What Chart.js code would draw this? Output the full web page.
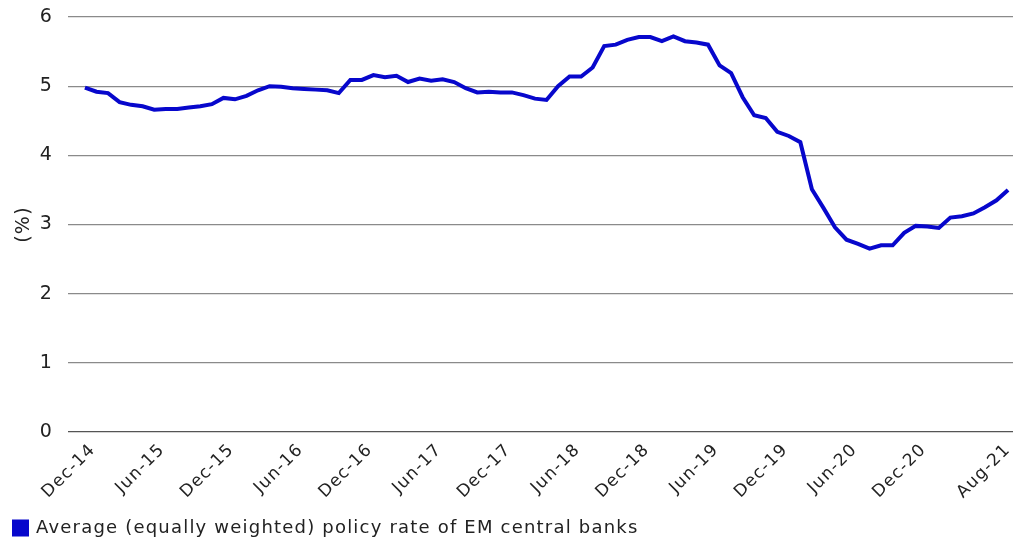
<!DOCTYPE html>
<html>
<head>
<meta charset="utf-8">
<script src="https://cdn.jsdelivr.net/npm/chart.js@4.4.1/dist/chart.umd.min.js"></script>
<style>
  html, body { margin: 0; padding: 0; background: #fff; }
  #wrap { width: 1013px; height: 538px; position: relative; }
</style>
</head>
<body>
<div id="wrap"><canvas id="grafico"></canvas></div>
<script>
// tasa promedio mensual, Dec-14 .. Aug-21 (81 meses)
const tasas = [
  4.98, 4.92, 4.90, 4.77, 4.73, 4.71, 4.66, 4.67, 4.67, 4.69,
  4.71, 4.74, 4.83, 4.81, 4.86, 4.94, 5.00, 4.99, 4.97, 4.96,
  4.95, 4.94, 4.90, 5.09, 5.09, 5.16, 5.13, 5.15, 5.06, 5.11,
  5.08, 5.10, 5.06, 4.97, 4.91, 4.92, 4.91, 4.91, 4.87, 4.82,
  4.80, 5.00, 5.14, 5.14, 5.27, 5.58, 5.60, 5.67, 5.71, 5.71,
  5.65, 5.72, 5.65, 5.63, 5.60, 5.30, 5.19, 4.84, 4.58, 4.54,
  4.34, 4.28, 4.19, 3.51, 3.24, 2.96, 2.78, 2.72, 2.65, 2.70,
  2.70, 2.88, 2.98, 2.97, 2.95, 3.10, 3.12, 3.16, 3.25, 3.35,
  3.50
];
const etiquetasX = ['Dec-14', 'Jun-15', 'Dec-15', 'Jun-16', 'Dec-16', 'Jun-17', 'Dec-17',
  'Jun-18', 'Dec-18', 'Jun-19', 'Dec-19', 'Jun-20', 'Dec-20', 'Aug-21'];
const posicionesX = [0, 6, 12, 18, 24, 30, 36, 42, 48, 54, 60, 66, 72, 80];
const ticksY = [0, 1, 2, 3, 4, 5, 6];
const nombreSerie = 'Average (equally weighted) policy rate of EM central banks';

const azul = '#0707cc';
const fuente = '"DejaVu Sans", sans-serif';

const puntos = tasas.map((v, i) => ({ x: i, y: v }));

// la fuente original es más ancha: un poco de espaciado entre letras
const espaciado = {
  id: 'espaciado',
  beforeUpdate: (chart) => { chart.ctx.letterSpacing = '1.2px'; },
  beforeDraw: (chart) => { chart.ctx.letterSpacing = '1.2px'; }
};

const ctx = document.getElementById('grafico').getContext('2d');
new Chart(ctx, {
  type: 'line',
  data: {
    datasets: [{
      label: nombreSerie,
      data: puntos,
      borderColor: azul,
      backgroundColor: azul,
      borderWidth: 4,
      pointRadius: 0,
      tension: 0,
      fill: false
    }]
  },
  plugins: [espaciado],
  options: {
    responsive: true,
    maintainAspectRatio: false,
    animation: false,
    layout: { padding: { top: 17, right: 0, bottom: -9, left: 4 } },
    plugins: {
      tooltip: { enabled: false },
      legend: {
        position: 'bottom',
        align: 'start',
        labels: {
          boxWidth: 13,
          boxHeight: 13,
          padding: 10,
          color: '#222',
          font: { family: fuente, size: 18 }
        }
      }
    },
    scales: {
      x: {
        type: 'linear',
        min: -1.47,
        max: 80.43,
        grid: { display: false },
        border: { display: false },
        afterBuildTicks: (eje) => {
          // la última etiqueta (Aug-21) no se desplaza fuera del borde
          eje.ticks = posicionesX.map(v => ({ value: Math.min(v, 79.3) }));
        },
        afterFit: (eje) => { eje.height = 77; eje.paddingLeft = 0; eje.paddingRight = 0; },
        ticks: {
          minRotation: 45,
          maxRotation: 45,
          autoSkip: false,
          padding: 0,
          labelOffset: 8,
          color: '#222',
          font: { family: fuente, size: 17 },
          callback: (v, i) => etiquetasX[i]
        }
      },
      y: {
        min: 0,
        max: 6,
        afterBuildTicks: (eje) => { eje.ticks = ticksY.map(v => ({ value: v })); },
        afterFit: (eje) => { eje.width = 64; eje.paddingTop = 0; eje.paddingBottom = 0; },
        grid: {
          drawTicks: false,
          color: (c) => c.tick && c.tick.value === 0 ? '#555' : '#8a8a8a',
          lineWidth: 1.3
        },
        border: { display: false },
        ticks: {
          padding: 15,
          color: '#222',
          font: { family: fuente, size: 19 }
        },
        title: {
          display: true,
          text: '(%)',
          color: '#222',
          padding: { top: 9, bottom: 0 },
          font: { family: fuente, size: 19 }
        }
      }
    }
  }
});
</script>
</body>
</html>
